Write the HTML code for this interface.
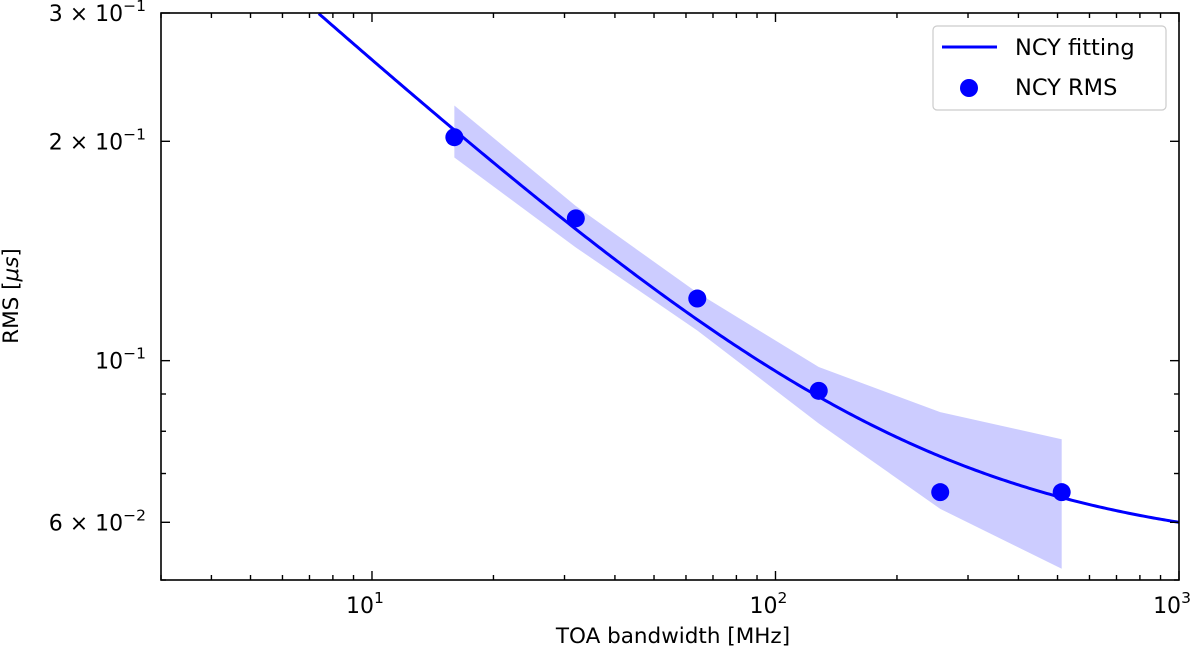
<!DOCTYPE html>
<html><head><meta charset="utf-8"><style>
body{margin:0;background:#fff}
svg text{font-family:"DejaVu Sans","Liberation Sans",sans-serif;fill:#000}
</style></head><body>
<svg id="chart" width="1200" height="652" viewBox="0 0 1200 652" xmlns="http://www.w3.org/2000/svg">
<g id="band"></g>
<g id="fit"></g>
<g id="pts"></g>
<g id="ticks"></g>
<rect x="161" y="13" width="1018" height="567" fill="none" stroke="#000" stroke-width="1.6"/>
<text x="673" y="643" font-size="21.5" text-anchor="middle">TOA bandwidth [MHz]</text>
<text transform="translate(18,296) rotate(-90)" font-size="21.5" text-anchor="middle">RMS [<tspan font-style="italic">μs</tspan>]</text>
<g>
<rect x="933" y="26" width="233" height="84" rx="4" fill="#fff" stroke="#ccc" stroke-width="1.2"/>
<line x1="942" y1="47" x2="997" y2="47" stroke="#0000ff" stroke-width="3"/>
<text x="1015" y="55" font-size="22.5">NCY fitting</text>
<circle cx="969" cy="88" r="9" fill="#0000ff"/>
<text x="1015" y="95" font-size="22.5">NCY RMS</text>
</g>
</svg>
<script>
const bandwidths=[16,32,64,128,256,512];
const rmsValues=[0.2026,0.1568,0.1217,0.0909,0.066,0.066];
const bandUpper=[0.224,0.163,0.124,0.098,0.085,0.078];
const bandLower=[0.190,0.143,0.110,0.082,0.0626,0.0518];
const fitParams=[0.64,0.00296]; // rms^2 = a/B + c
const yTickValues=[0.06,0.1,0.2,0.3];
const yTickLabels=["6","1","2","3"];
const xTickValues=[10,100,1000];
const xTickLabels=["1","2","3"];

const X0=161,X1=1179,Y0=13,Y1=580,xmin=3,xmax=1000,ymin=0.05,ymax=0.3;
const L=Math.log10;
const sx=v=>X0+(L(v)-L(xmin))/(L(xmax)-L(xmin))*(X1-X0);
const sy=v=>Y1-(L(v)-L(ymin))/(L(ymax)-L(ymin))*(Y1-Y0);
const NS="http://www.w3.org/2000/svg";
function mk(tag,parent,attrs){const e=document.createElementNS(NS,tag);for(const k in attrs)e.setAttribute(k,attrs[k]);parent.appendChild(e);return e;}

const band=document.getElementById('band');
let d=bandwidths.map((b,i)=>(i?'L':'M')+sx(b)+','+sy(bandUpper[i])).join('');
for(let i=bandwidths.length-1;i>=0;i--)d+='L'+sx(bandwidths[i])+','+sy(bandLower[i]);
const bp=mk('path',band,{d:d+'Z',fill:'#0000ff','fill-opacity':'0.2'});



const fit=document.getElementById('fit');
let fd='';let first=true;
for(let i=0;i<=400;i++){const b=Math.pow(10,L(xmin)+i/400*(L(xmax)-L(xmin)));const r=Math.sqrt(fitParams[0]/b+fitParams[1]);
 let y=sy(r);if(y<Y0)continue;fd+=(first?'M':'L')+sx(b)+','+y;first=false;}
const fp=mk('path',fit,{d:fd,fill:'none',stroke:'#0000ff','stroke-width':'3'});



const pts=document.getElementById('pts');
bandwidths.forEach((b,i)=>{const c=mk('circle',pts,{cx:sx(b),cy:sy(rmsValues[i]),r:9,fill:'#0000ff'});
 
 });

const tk=document.getElementById('ticks');
function tick(x1,y1,x2,y2){mk('line',tk,{x1,y1,x2,y2,stroke:'#000','stroke-width':'1.4'});}
for(let e=0;e<4;e++)for(let m=1;m<10;m++){const v=m*Math.pow(10,e);if(v<xmin||v>xmax)continue;const x=sx(v);const len=m===1?9:5;tick(x,Y1,x,Y1-len);tick(x,Y0,x,Y0+len);}
for(let m=5;m<=30;m++){const v=m<10?m/100:(m%10===0?m/100:null);if(v===null||v<ymin||v>ymax)continue;const y=sy(v);const maj=yTickValues.includes(v);const len=maj?9:5;tick(X0,y,X0+len,y);tick(X1,y,X1-len,y);}
xTickValues.forEach((v,i)=>{const t=mk('text',tk,{x:sx(v)-7,y:613,'font-size':22,'text-anchor':'middle'});t.innerHTML='10<tspan dy="-10" font-size="15.5">'+xTickLabels[i]+'</tspan>';
 
 });
yTickValues.forEach((v,i)=>{const t=mk('text',tk,{x:146,y:sy(v)+8,'font-size':22,'text-anchor':'end'});
 t.innerHTML=(v===0.1?'':yTickLabels[i]+' × ')+'10<tspan dy="-10" font-size="15.5">−'+(v<0.1?2:1)+'</tspan>';
 
 });
</script>
</body></html>
